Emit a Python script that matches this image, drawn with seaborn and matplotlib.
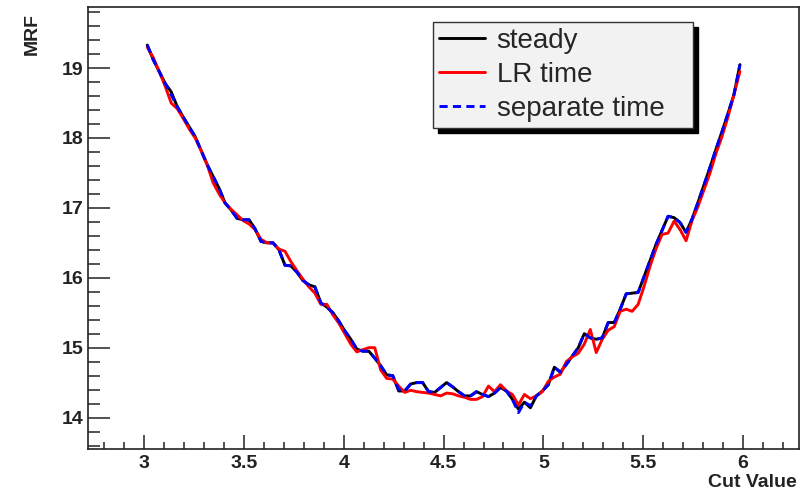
import matplotlib
matplotlib.use("Agg")
import matplotlib.pyplot as plt
from matplotlib.ticker import MultipleLocator
import pandas as pd
import seaborn as sns

sns.set_style("white")
plt.rcParams["font.family"] = ["Liberation Sans", "DejaVu Sans"]

# Cut values (bin centres) scanned
cut_value = [
    3.015, 3.045, 3.075, 3.105, 3.135, 3.165, 3.195, 3.225, 3.255, 3.285,
    3.315, 3.345, 3.375, 3.405, 3.435, 3.465, 3.495, 3.525, 3.555, 3.585,
    3.615, 3.645, 3.675, 3.705, 3.735, 3.765, 3.795, 3.825, 3.855, 3.885,
    3.915, 3.945, 3.975, 4.005, 4.035, 4.065, 4.095, 4.125, 4.155, 4.185,
    4.215, 4.245, 4.275, 4.305, 4.335, 4.365, 4.395, 4.425, 4.455, 4.485,
    4.515, 4.545, 4.575, 4.605, 4.635, 4.665, 4.695, 4.725, 4.755, 4.785,
    4.815, 4.845, 4.875, 4.905, 4.935, 4.965, 4.995, 5.025, 5.055, 5.085,
    5.115, 5.145, 5.175, 5.205, 5.235, 5.265, 5.295, 5.325, 5.355, 5.385,
    5.415, 5.445, 5.475, 5.505, 5.535, 5.565, 5.595, 5.625, 5.655, 5.685,
    5.715, 5.745, 5.775, 5.805, 5.835, 5.865, 5.895, 5.925, 5.955, 5.985,
]

# MRF for the steady configuration
mrf_steady = [
    19.33, 19.12, 18.95, 18.78, 18.66, 18.45, 18.30, 18.16, 18.02, 17.82,
    17.62, 17.45, 17.28, 17.07, 16.97, 16.85, 16.83, 16.83, 16.70, 16.52,
    16.50, 16.50, 16.40, 16.18, 16.17, 16.08, 15.96, 15.90, 15.87, 15.64,
    15.58, 15.50, 15.38, 15.24, 15.12, 14.98, 14.95, 14.95, 14.85, 14.74,
    14.61, 14.60, 14.38, 14.38, 14.48, 14.50, 14.50, 14.37, 14.36, 14.43,
    14.50, 14.44, 14.37, 14.31, 14.31, 14.37, 14.33, 14.30, 14.35, 14.43,
    14.38, 14.26, 14.12, 14.22, 14.14, 14.31, 14.38, 14.47, 14.72, 14.65,
    14.76, 14.88, 15.00, 15.20, 15.14, 15.12, 15.14, 15.36, 15.36, 15.55,
    15.77, 15.78, 15.79, 16.02, 16.25, 16.48, 16.68, 16.88, 16.86, 16.79,
    16.65, 16.84, 17.08, 17.33, 17.58, 17.84, 18.09, 18.35, 18.62, 19.05,
]

# MRF with the LR time method
mrf_lr_time = [
    19.30, 19.15, 18.95, 18.74, 18.50, 18.42, 18.28, 18.13, 18.00, 17.82,
    17.62, 17.36, 17.20, 17.07, 16.98, 16.90, 16.82, 16.77, 16.69, 16.55,
    16.50, 16.50, 16.41, 16.38, 16.23, 16.10, 15.98, 15.87, 15.78, 15.62,
    15.62, 15.47, 15.35, 15.20, 15.05, 14.94, 14.97, 15.00, 15.00, 14.68,
    14.56, 14.55, 14.45, 14.36, 14.39, 14.37, 14.36, 14.35, 14.33, 14.31,
    14.35, 14.34, 14.31, 14.29, 14.26, 14.26, 14.30, 14.45, 14.37, 14.47,
    14.38, 14.33, 14.18, 14.33, 14.27, 14.31, 14.37, 14.52, 14.58, 14.62,
    14.80, 14.87, 14.92, 15.05, 15.26, 14.93, 15.12, 15.25, 15.30, 15.52,
    15.55, 15.52, 15.62, 15.88, 16.17, 16.42, 16.62, 16.64, 16.81, 16.69,
    16.53, 16.82, 17.02, 17.26, 17.50, 17.78, 18.02, 18.30, 18.62, 18.95,
]

# MRF with separate time treatment
mrf_separate_time = [
    19.33, 19.12, 18.95, 18.78, 18.62, 18.45, 18.30, 18.16, 18.02, 17.82,
    17.62, 17.45, 17.28, 17.07, 16.97, 16.85, 16.83, 16.83, 16.70, 16.52,
    16.50, 16.50, 16.40, 16.18, 16.17, 16.08, 15.96, 15.90, 15.87, 15.64,
    15.58, 15.50, 15.38, 15.24, 15.12, 14.98, 14.95, 14.95, 14.85, 14.74,
    14.61, 14.60, 14.40, 14.38, 14.48, 14.50, 14.50, 14.37, 14.36, 14.43,
    14.50, 14.44, 14.37, 14.31, 14.31, 14.37, 14.33, 14.30, 14.35, 14.43,
    14.38, 14.26, 14.07, 14.22, 14.17, 14.31, 14.38, 14.47, 14.72, 14.65,
    14.76, 14.88, 15.00, 15.20, 15.14, 15.12, 15.14, 15.36, 15.36, 15.55,
    15.77, 15.78, 15.79, 16.02, 16.25, 16.48, 16.68, 16.88, 16.86, 16.79,
    16.65, 16.84, 17.08, 17.33, 17.58, 17.84, 18.09, 18.35, 18.62, 19.05,
]

series_names = ["steady", "LR time", "separate time"]
series_colors = ["#000000", "#ff0000", "#0000ff"]

df = pd.DataFrame({
    "Cut Value": cut_value,
    "steady": mrf_steady,
    "LR time": mrf_lr_time,
    "separate time": mrf_separate_time,
})

fig = plt.figure(figsize=(8.03, 4.94), dpi=100)
ax = fig.add_axes([88 / 803, 45 / 494, 711 / 803, 441.7 / 494])

for name, color in zip(series_names, series_colors):
    style = (0, (2.8, 1.8)) if name == "separate time" else "-"
    sns.lineplot(data=df, x="Cut Value", y=name, color=color, lw=2.1,
                 linestyle=style, label=name, estimator=None, sort=False, ax=ax)

ax.set_xlim(2.718, 6.281)
ax.set_ylim(13.55, 19.87)

ax.xaxis.set_major_locator(MultipleLocator(0.5))
ax.xaxis.set_minor_locator(MultipleLocator(0.1))
ax.yaxis.set_major_locator(MultipleLocator(1))
ax.yaxis.set_minor_locator(MultipleLocator(0.2))
ax.xaxis.set_major_formatter(matplotlib.ticker.FuncFormatter(lambda v, p: f"{v:g}"))
ax.yaxis.set_major_formatter(matplotlib.ticker.FuncFormatter(lambda v, p: f"{v:g}"))

ax.tick_params(axis="both", which="both", direction="in", bottom=True, left=True,
               top=False, right=False, width=1.1, color="#222222")
ax.tick_params(axis="y", which="major", length=15.8, pad=3.5, labelsize=14)
ax.tick_params(axis="y", which="minor", length=8.4)
ax.tick_params(axis="x", which="major", length=10, pad=4, labelsize=14)
ax.tick_params(axis="x", which="minor", length=5)
for lab in ax.get_xticklabels() + ax.get_yticklabels():
    lab.set_fontweight("bold")
    lab.set_color("#222222")

for sp in ax.spines.values():
    sp.set_linewidth(1.2)
    sp.set_color("#222222")

ax.set_xlabel("Cut Value", fontsize=14, fontweight="bold", loc="right", color="#222222")
ax.xaxis.set_label_coords(0.997, -0.057)
ax.set_ylabel("MRF", fontsize=14, fontweight="bold", loc="top", color="#222222")
ax.yaxis.set_label_coords(-0.066, 0.987)

leg = ax.legend(
    loc="upper left",
    bbox_to_anchor=(433 / 803, 1 - 22 / 494 - 0.01, 260 / 803, 0.01),
    bbox_transform=fig.transFigure,
    mode="expand",
    fontsize=20,
    frameon=True,
    fancybox=False,
    framealpha=1,
    borderaxespad=0,
    borderpad=0.22,
    labelspacing=0.28,
    handlelength=1.65,
    handletextpad=0.42,
    shadow={"ox": 3.6, "oy": -3.6, "facecolor": "black", "edgecolor": "black", "alpha": 1},
)
leg.get_frame().set_facecolor("#f2f2f2")
leg.get_frame().set_edgecolor("#333333")
leg.get_frame().set_linewidth(1.0)

fig.savefig("out.png", dpi=100)
